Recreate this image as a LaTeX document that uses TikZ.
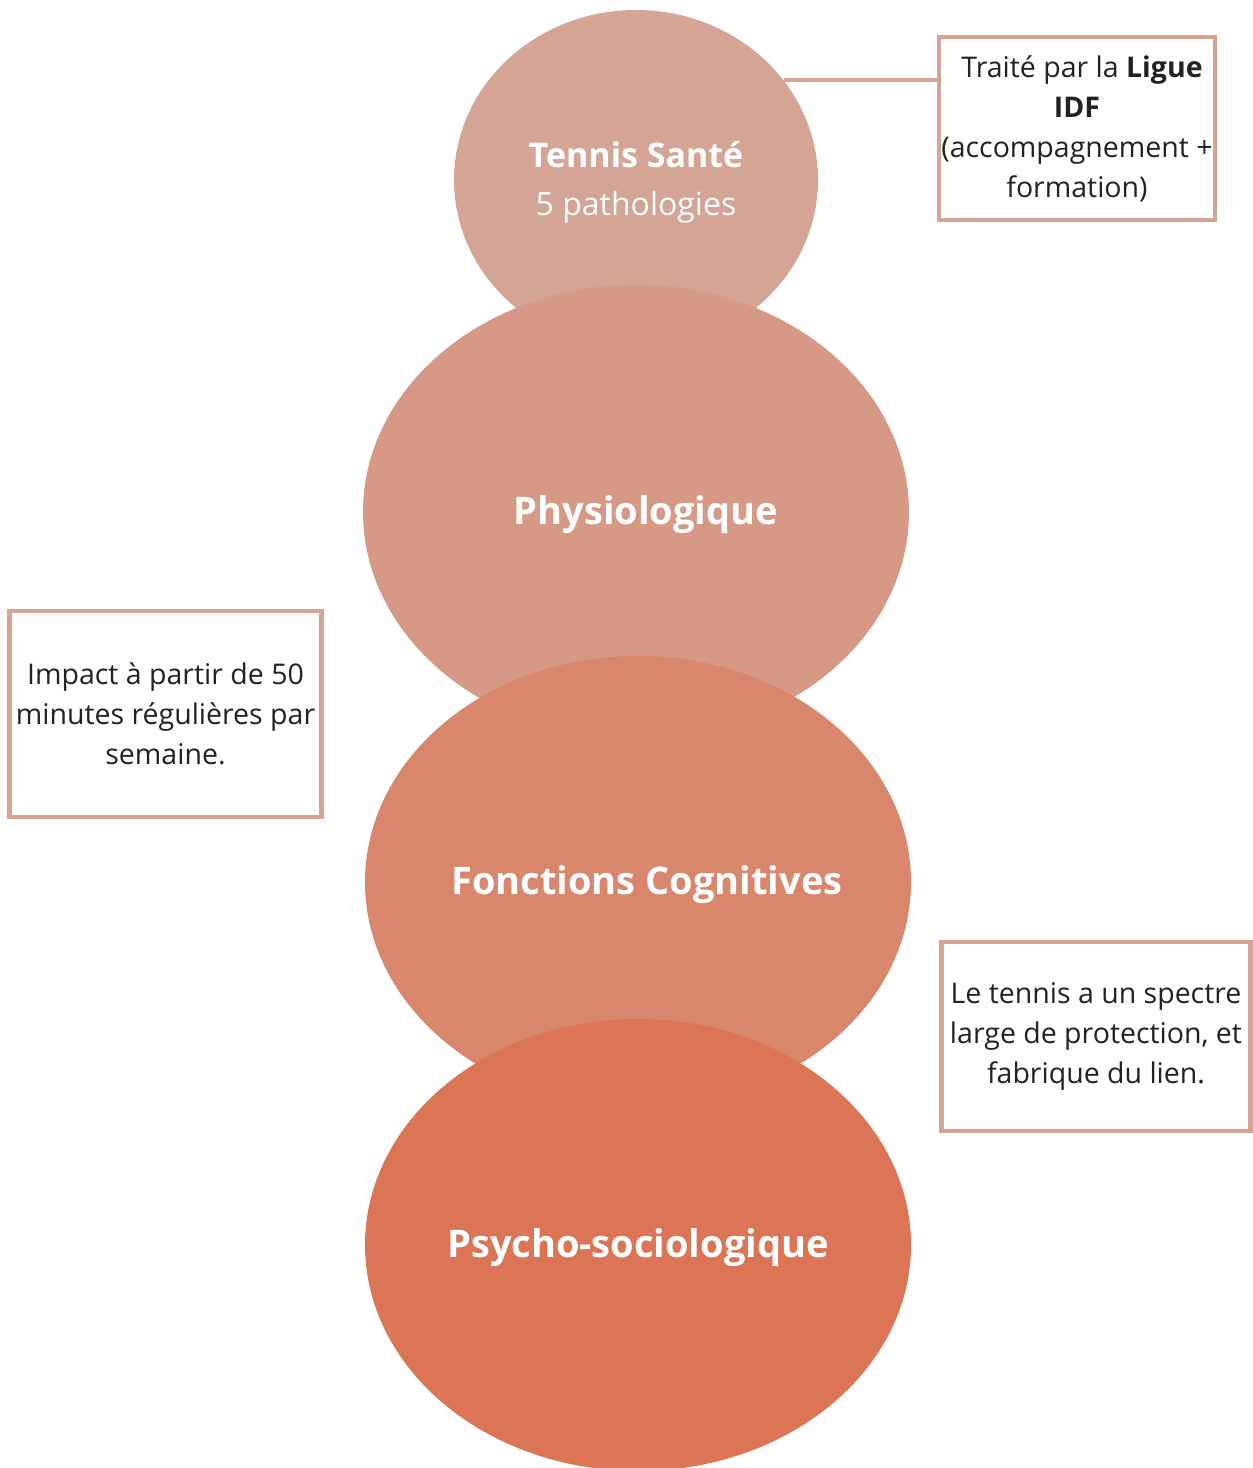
\documentclass[tikz,border=0pt]{standalone}
\usepackage{fontspec}
\setmainfont{Open Sans}
\usepackage{tikz}
\usetikzlibrary{shapes}
\definecolor{santecol}{HTML}{D4A495}
\definecolor{physcol}{HTML}{D69985}
\definecolor{cogcol}{HTML}{D8876D}
\definecolor{psycol}{HTML}{DB7555}
\definecolor{boxcol}{HTML}{D4A495}
\definecolor{textcol}{HTML}{222222}
\tikzstyle{bubble}=[ellipse, inner sep=0pt, outer sep=0pt]
\tikzstyle{bubbletext}=[align=center, text=white, font=\fontsize{38}{48}\selectfont\bfseries]
\tikzstyle{notebox}=[draw=boxcol, line width=4.5pt, fill=white, inner sep=0pt, outer sep=0pt, align=center, text=textcol, font=\fontsize{28.5}{40}\selectfont]
\tikzstyle{link}=[draw=boxcol, line width=4pt]

\begin{document}
\begin{tikzpicture}[x=1pt,y=-1pt]
	\useasboundingbox (0,0) rectangle (1253,1468);
	% bubbles, top to bottom
	\node[bubble, fill=santecol, minimum width=364, minimum height=340,
		label={[bubbletext, yshift=-2pt, font=\fontsize{34}{48}\selectfont\bfseries]center:Tennis Santé\\{\mdseries\fontsize{32}{48}\selectfont 5 pathologies}}] (sante) at (636,180) {};
	\node[bubble, fill=physcol, minimum width=546, minimum height=454,
		label={[bubbletext, xshift=10pt, yshift=-3pt]center:Physiologique}] (physio) at (636,512) {};
	\node[bubble, fill=cogcol, minimum width=546, minimum height=452,
		label={[bubbletext, xshift=9pt, yshift=-3pt]center:Fonctions Cognitives}] (cogn) at (638,882) {};
	\node[bubble, fill=psycol, minimum width=546, minimum height=452,
		label={[bubbletext, yshift=-3pt]center:Psycho-sociologique}] (psycho) at (638,1245) {};
	% notes
	\node[notebox, minimum width=276, minimum height=183] (ligue) at (1077,128.5) {\hspace*{10pt}Traité par la \textbf{Ligue}\\\textbf{IDF}\\(accompagnement +\\formation)};
	\node[notebox, minimum width=312, minimum height=206] (impact) at (165.5,714) {Impact à partir de 50\\minutes régulières par\\semaine.};
	\node[notebox, minimum width=309, minimum height=189] (spectre) at (1096,1036.5) {Le tennis a un spectre\\large de protection, et\\fabrique du lien.};
	\draw[link] (sante.34.7) -- (sante.34.7 -| ligue.west);
\end{tikzpicture}
\end{document}
